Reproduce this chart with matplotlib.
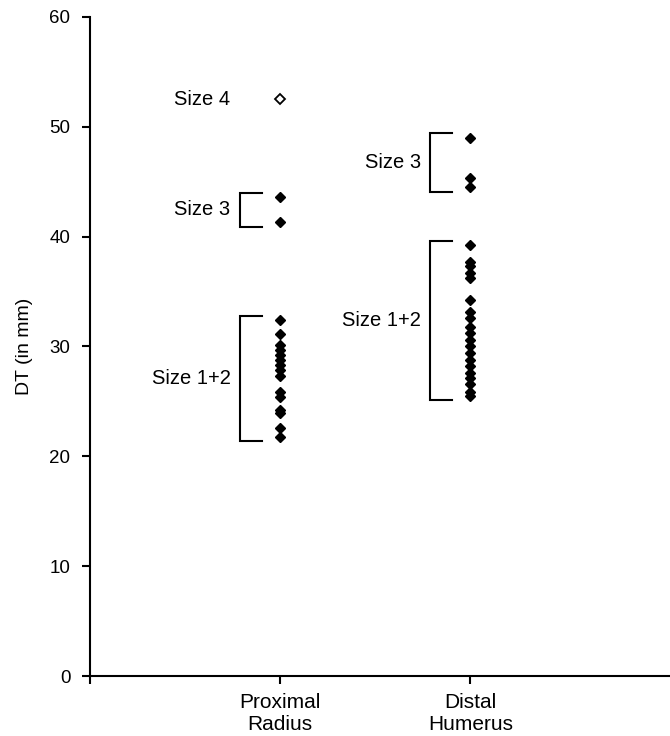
import matplotlib
matplotlib.use("Agg")
import matplotlib.pyplot as plt

plt.rcParams['font.family'] = ['Liberation Sans', 'DejaVu Sans']

# Data (DT in mm)
categories = ["Proximal\nRadius", "Distal\nHumerus"]

prox_size12 = [32.4, 31.1, 30.1, 29.7, 29.2, 28.8, 28.3, 27.9, 27.3,
               25.9, 25.4, 24.2, 23.9, 22.6, 21.8]
prox_size3 = [43.6, 41.3]
prox_size4 = [52.5]

dist_size12 = [39.2, 37.7, 37.3, 36.7, 36.2, 34.2, 33.1, 32.6, 31.8, 31.2,
               30.6, 30.0, 29.4, 28.8, 28.2, 27.6, 27.1, 26.6, 25.9, 25.5]
dist_size3 = [49.0, 45.3, 44.5]

fig = plt.figure(figsize=(6.7, 7.36), dpi=100)
ax = fig.add_axes([0.134, 0.0815, 0.866, 0.8955])

# filled diamonds
for xpos, group in [(1, prox_size12), (1, prox_size3), (2, dist_size12), (2, dist_size3)]:
    ax.plot([xpos] * len(group), group, linestyle="none", marker="D",
            markersize=5.5, color="black", clip_on=False)
# open diamond for the single size 4
ax.plot([1] * len(prox_size4), prox_size4, linestyle="none", marker="D",
        markersize=5.5, markerfacecolor="white", markeredgecolor="black",
        markeredgewidth=1.3)

# brackets with labels
def bracket(xpos, group, label, pad=0.4):
    lo, hi = min(group) - pad, max(group) + pad
    x0, x1 = xpos - 0.21, xpos - 0.095
    ax.plot([x1, x0, x0, x1], [hi, hi, lo, lo], color="black", lw=1.5,
            solid_joinstyle="miter")
    ax.text(x0 - 0.05, (lo + hi) / 2, label, ha="right", va="center", fontsize=14.5)

bracket(1, prox_size12, "Size 1+2")
bracket(1, prox_size3, "Size 3")
bracket(2, dist_size12, "Size 1+2")
bracket(2, dist_size3, "Size 3")
ax.text(1 - 0.26, prox_size4[0], "Size 4", ha="right", va="center", fontsize=14.5)

ax.set_xlim(0, 3.05)
ax.set_ylim(0, 60)
ax.set_yticks(range(0, 61, 10))
ax.set_xticks([0, 1, 2])
ax.set_xticklabels([""] + categories, fontsize=15)
ax.set_ylabel("DT (in mm)", fontsize=14, labelpad=12)
ax.tick_params(axis="y", labelsize=13.5, length=6, width=1.5, pad=8)
ax.tick_params(axis="x", length=6, width=1.5, pad=6)

for side in ["top", "right"]:
    ax.spines[side].set_visible(False)
for side in ["left", "bottom"]:
    ax.spines[side].set_linewidth(1.5)

fig.savefig("out.png", dpi=100)
